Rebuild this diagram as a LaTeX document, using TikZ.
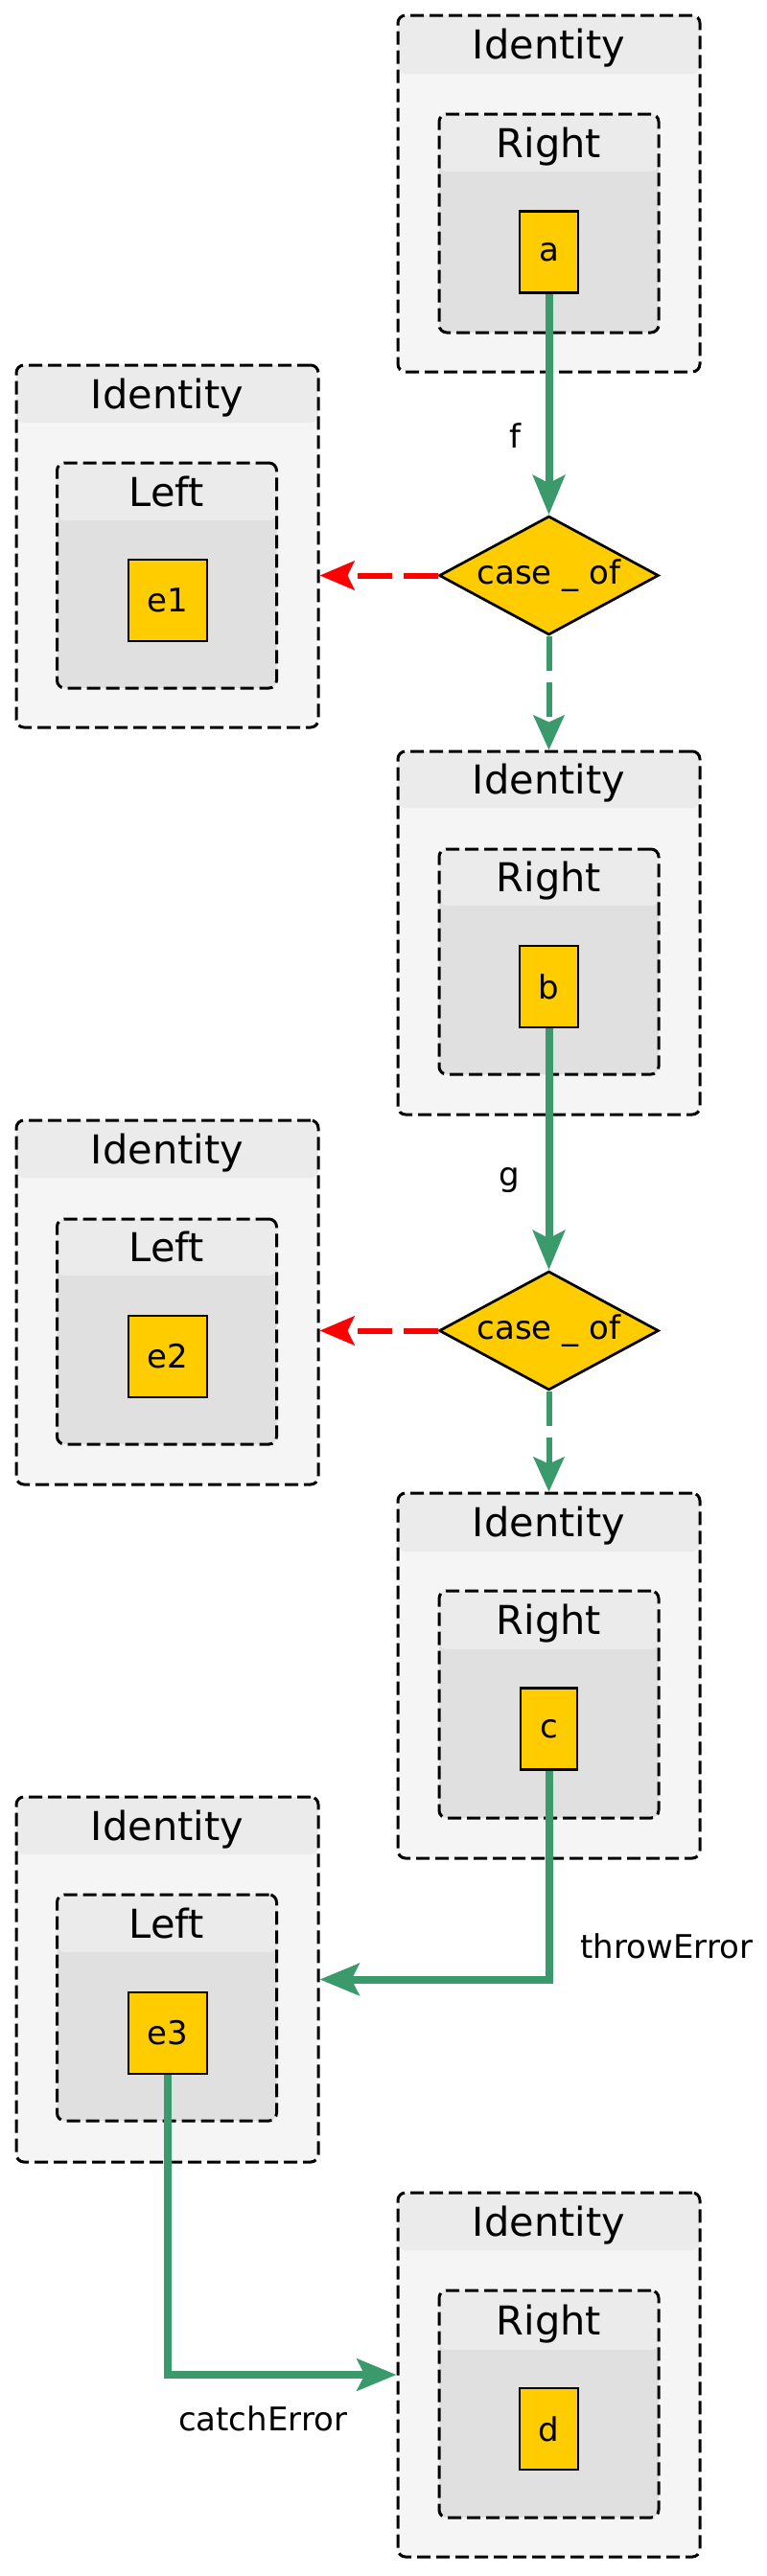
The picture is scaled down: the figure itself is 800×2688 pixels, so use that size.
\documentclass[tikz,border=0pt]{standalone}
\usepackage{fontspec}
\setmainfont{DejaVu Sans}
\usetikzlibrary{arrows.meta, shapes.geometric}
\definecolor{boxgold}{HTML}{FFCC00}
\definecolor{flowgreen}{HTML}{3A9A6C}
\definecolor{hdrgray}{HTML}{EBEBEB}
\definecolor{outergray}{HTML}{F5F5F5}
\definecolor{innergray}{HTML}{E0E0E0}
\newcommand{\clusterfont}{\fontsize{41.5}{48}\selectfont}
\newcommand{\valfont}{\fontsize{34}{40}\selectfont}

\begin{document}
\begin{tikzpicture}[x=1pt, y=-1pt,
    wrapper/.style={draw, line width=3pt, dash pattern=on 14pt off 6pt,
      rounded corners=8pt, inner sep=0pt, fill=outergray, minimum width=315pt},
    either/.style={wrapper, fill=innergray, minimum width=229pt},
    ttl/.style={font=\clusterfont, inner sep=0pt, text height=30pt, text depth=0pt},
    val/.style={draw, line width=2.7pt, fill=boxgold, inner sep=0pt,
      minimum height=85pt, font=\valfont},
    decide/.style={diamond, draw, line width=2.7pt, fill=boxgold, aspect=1.83,
      minimum width=229pt, minimum height=124pt, inner sep=0pt, font=\valfont},
    lbl/.style={font=\valfont, inner sep=0pt},
    flow/.style={draw=flowgreen, line width=8pt,
      -{Stealth[length=41pt, width=33pt, inset=8pt]}},
    altflow/.style={draw=flowgreen, line width=6pt, dash pattern=on 36pt off 12pt,
      -{Stealth[length=36pt, width=32pt, inset=7pt]}},
    errflow/.style={draw=red, line width=6pt, dash pattern=on 36pt off 12pt,
      -{Stealth[length=36pt, width=30pt, inset=7pt]}}]

    \fill[white] (0,0) rectangle (800,2688);
    \useasboundingbox (0,0) rectangle (800,2688);

    % Identity wrappers
    \foreach \nm/\cx/\ytop/\yhdr/\ybot in {%
      id1/572.5/16/77/388,
      idl1/174.5/381/441/759,
      id2/572.5/784/843/1163,
      idl2/174.5/1169/1229/1549,
      id3/572.5/1558/1619/1939,
      idl3/174.5/1875/1935/2256,
      id4/572.5/2288/2348/2668}{%
      \pgfmathsetmacro\hh{\yhdr-\ytop}
      \node[wrapper, minimum height={\ybot-\ytop},
        path picture={\fill[hdrgray] (path picture bounding box.north west)
          rectangle ([yshift=-\hh]path picture bounding box.north east);}]
        (\nm) at (\cx,{(\ytop+\ybot)/2}) {};
      \node[ttl] (t\nm) at (\cx,{(\ytop+\yhdr)/2}) {Identity};
    }

    % Left / Right
    \foreach \nm/\cx/\ytop/\yhdr/\ybot/\lab in {%
      r1/572.5/119/179/347/Right,
      l1/174/483/543/718/Left,
      r2/572.5/886/945/1121/Right,
      l2/174/1272/1331/1507/Left,
      r3/572.5/1660/1721/1897/Right,
      l3/174/1977/2037/2213/Left,
      r4/572.5/2390/2452/2627/Right}{%
      \pgfmathsetmacro\hh{\yhdr-\ytop}
      \node[either, minimum height={\ybot-\ytop},
        path picture={\fill[hdrgray] (path picture bounding box.north west)
          rectangle ([yshift=-\hh]path picture bounding box.north east);}]
        (\nm) at (\cx,{(\ytop+\ybot)/2}) {};
      \node[ttl] (t\nm) at (\cx,{(\ytop+\yhdr)/2}) {\lab};
    }

    % values
    \foreach \nm/\cx/\cy/\w in {%
      a/572.5/263/61,
      e1/175/626.5/82,
      b/572.5/1029.5/61,
      e2/175/1415.5/82,
      c/572.5/1804/59,
      e3/175/2121.5/82,
      d/572.5/2534.5/61}{%
      \node[val, minimum width=\w] (\nm) at (\cx,\cy) {\nm};
    }

    \node[decide] (case1) at (572.5,600.5) {case \_ of};
    \node[decide] (case2) at (572.5,1388.5) {case \_ of};

    % edges
    \draw[flow] (a) -- node[lbl, left=25pt, pos=0.64] (lf) {f} (case1);
    \draw[altflow] (case1) -- (id2);
    \draw[errflow] (case1.west) -- (case1.west -| idl1.east);
    \draw[flow] (b) -- node[lbl, left=26pt, pos=0.63] (lg) {g} (case2);
    \draw[altflow] (case2) -- (id3);
    \draw[errflow] (case2.west) -- (case2.west -| idl2.east);
    \draw[flow] (c.south) |- node[lbl, anchor=west, pos=0.5, xshift=29pt,
      yshift=35pt] (lthrow) {throwError} (idl3.east);
    \draw[flow] (e3.south) |- node[lbl, pos=0.5, xshift=99pt,
      yshift=-46pt] (lcatch) {catchError} (id4.west);
\end{tikzpicture}
\end{document}
